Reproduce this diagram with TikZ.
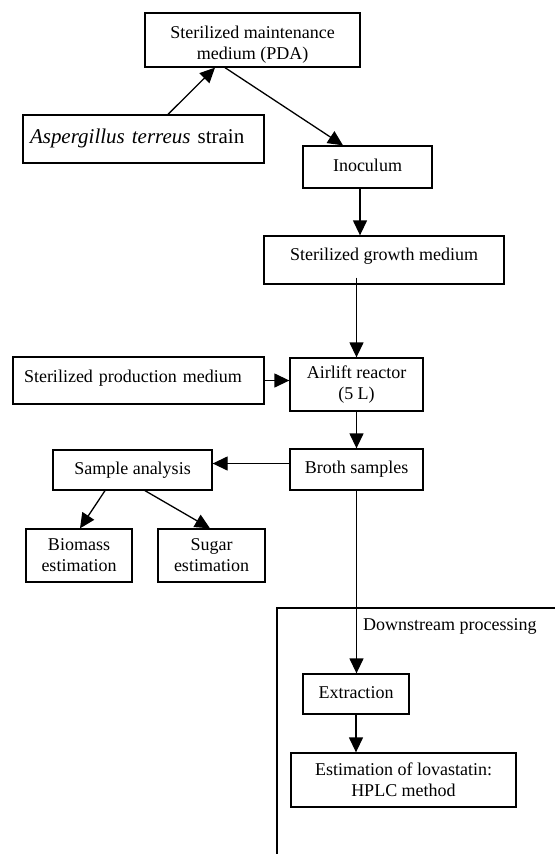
\documentclass[tikz,border=0pt]{standalone}
\usepackage{fontspec}
\setmainfont{Liberation Serif}
\usetikzlibrary{calc,arrows.meta,positioning}

\begin{document}
\begin{tikzpicture}[
    x=1pt, y=-1pt,
    >={Triangle[length=15pt,width=14pt]},
    box/.style={draw, line width=1.3pt, inner sep=0pt, align=center, font=\fontsize{18}{21}\selectfont},
    oneline/.style={text height=12pt, text depth=4pt},
    flow/.style={->, line width=1.3pt}
    ]
    
    % Page
    \useasboundingbox (0,0) rectangle (555,854);
    
    % Coordinates of the downstream frame
    \coordinate (dsBottom) at (277,854);
    \coordinate (dsCorner) at (277,608);
    \coordinate (dsRight)  at (555,608);
    
    % Upstream boxes
    \node[box, minimum width=215pt, minimum height=54pt, text height=42.5pt] (pda) at (252.5,40) {Sterilized maintenance\\medium (PDA)};
    \node[box, minimum height=48pt, text width=227pt, inner xsep=7pt, align=left, font=\fontsize{21}{24}\selectfont, text height=14pt, text depth=5pt] (strain) at (143.5,139) {\textit{Aspergillus terreus} strain};
    \node[box, oneline, minimum width=129pt, minimum height=42pt] (inoc) at (367.5,167) {Inoculum};
    \node[box, minimum width=240pt, minimum height=48pt, text height=12pt, text depth=12pt] (growth) at (384,260) {Sterilized growth medium};
    
    % Fermentation boxes
    \node[box, minimum height=47pt, text width=229pt, inner xsep=11pt, align=left, text height=12pt, text depth=9pt] (prod) at (138.5,380.5) {Sterilized production medium};
    \node[box, minimum width=133pt, minimum height=53pt] (airlift) at (356.5,384.5) {Airlift reactor\\(5 L)};
    \node[box, oneline, minimum width=133pt, minimum height=41pt] (broth) at (356.5,469.5) {Broth samples};
    
    % Analysis boxes
    \node[box, oneline, minimum width=159pt, minimum height=40pt] (sample) at (132.5,470) {Sample analysis};
    \node[box, minimum width=106pt, minimum height=53pt] (biomass) at (79,555.5) {Biomass\\estimation};
    \node[box, minimum width=107pt, minimum height=53pt] (sugar) at (211.5,555.5) {Sugar\\estimation};
    
    % Downstream processing
    \draw[line width=1.3pt] (dsBottom) -- (dsCorner) -- (dsRight);
    \node[font=\fontsize{18}{21}\selectfont, anchor=base west, inner sep=0pt] (dslabel) at (363,630) {Downstream processing};
    \node[box, oneline, minimum width=106pt, minimum height=40pt] (extract) at (356,694) {Extraction};
    \node[box, minimum width=225pt, minimum height=54pt] (estim) at (403.5,780) {Estimation of lovastatin:\\HPLC method};
    
    % Arrows
    \draw[flow] ([xshift=24.5pt]strain.north) -- ([xshift=-37.5pt]pda.south);
    \draw[flow] ([xshift=-27.5pt]pda.south) -- ([xshift=-24.5pt]inoc.north);
    \draw[flow] ([xshift=-7.5pt]inoc.south) -- ([xshift=-7.5pt]inoc.south |- growth.north);
    \draw[flow] ([yshift=7pt]airlift.north |- growth.south) -- (airlift.north);
    \draw[flow] (prod.east) -- (prod.east -| airlift.west);
    \draw[flow] (airlift.south) -- (broth.north);
    \draw[flow] ([yshift=6pt]broth.west) -- ([yshift=6pt]broth.west -| sample.east);
    \draw[flow] ([xshift=-27.5pt]sample.south) -- ([xshift=1pt]biomass.north);
    \draw[flow] ([xshift=12.5pt]sample.south) -- ([xshift=-1.5pt]sugar.north);
    \draw[flow] (broth.south) -- (broth.south |- extract.north);
    \draw[flow] (extract.south) -- (extract.south |- estim.north);
\end{tikzpicture}
\end{document}
